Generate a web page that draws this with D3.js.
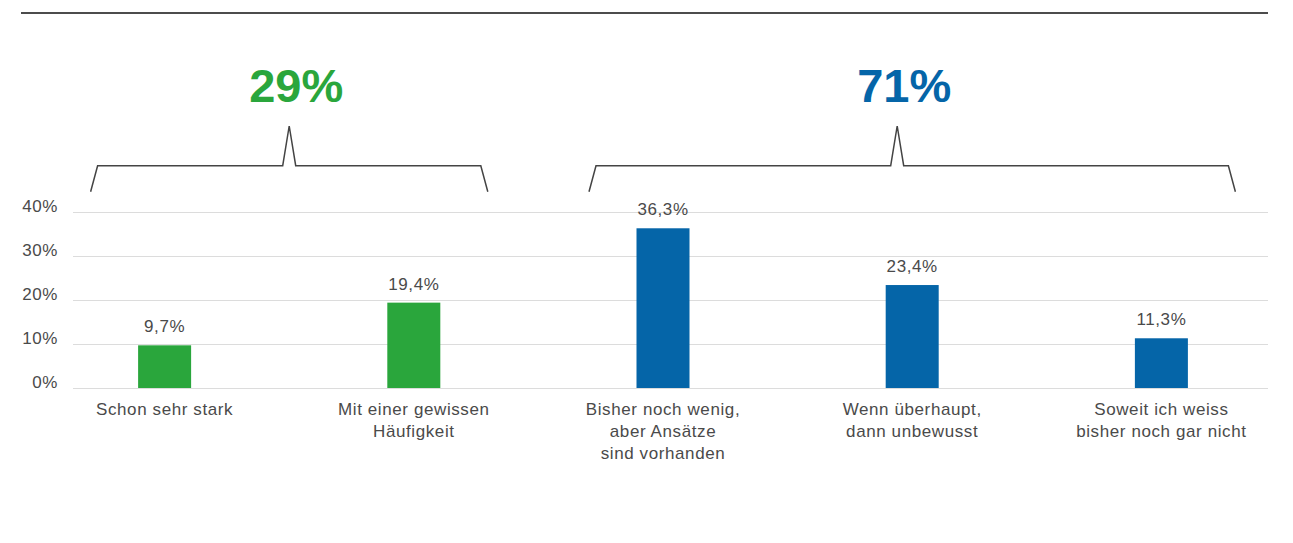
<!DOCTYPE html>
<html>
<head>
<meta charset="utf-8">
<script src="https://cdn.jsdelivr.net/npm/d3@7"></script>
<style>
  html, body { margin: 0; padding: 0; background: #fff; }
  svg { display: block; font-family: "Liberation Sans", Arial, Helvetica, sans-serif; }
</style>
</head>
<body>
<svg id="chart" width="1293" height="543"></svg>
<script>
// ---- data ----
const categories = [
  ["Schon sehr stark"],
  ["Mit einer gewissen", "Häufigkeit"],
  ["Bisher noch wenig,", "aber Ansätze", "sind vorhanden"],
  ["Wenn überhaupt,", "dann unbewusst"],
  ["Soweit ich weiss", "bisher noch gar nicht"]
];
const values = [9.7, 19.4, 36.3, 23.4, 11.3];
const valueLabels = ["9,7%", "19,4%", "36,3%", "23,4%", "11,3%"];
const groupOf = [0, 0, 1, 1, 1];
const groupNames = ["29%", "71%"];
const groupColors = ["#2aa63c", "#0565a8"];
const yTicks = [0, 10, 20, 30, 40];
const yTickLabels = ["0%", "10%", "20%", "30%", "40%"];

// ---- layout ----
const svg = d3.select("#chart");
const textColor = "#4a4a4a";
const ls = "0.6px";
const keys = categories.map((c, i) => i);

const x = d3.scaleBand().domain(keys).range([40, 1286])
  .paddingInner(0.7873).paddingOuter(0.3937);
const y = d3.scaleLinear().domain([0, 40]).range([388, 212]);
const cx = i => x(i) + x.bandwidth() / 2;

// top rule
svg.append("line").attr("x1", 21).attr("x2", 1268).attr("y1", 13).attr("y2", 13)
  .attr("stroke", "#111").attr("stroke-width", 1.5);

// gridlines + y labels via axis
const yAxis = d3.axisLeft(y).tickValues(yTicks)
  .tickSize(-(1268 - 73)).tickFormat((d, i) => yTickLabels[i]);
const gy = svg.append("g").attr("transform", "translate(73,0)").call(yAxis);
gy.select(".domain").remove();
gy.selectAll(".tick line").attr("stroke", "#dcdcdc").attr("stroke-width", 1.2);
gy.selectAll(".tick text")
  .attr("x", -15).attr("dy", "-0.05em")
  .attr("fill", textColor).attr("font-size", 17)
  .attr("letter-spacing", ls)
  .attr("font-family", "Liberation Sans, Arial, sans-serif");

// bars
svg.append("g").selectAll("rect").data(values).join("rect")
  .attr("x", (d, i) => x(i))
  .attr("y", d => y(d))
  .attr("width", x.bandwidth())
  .attr("height", d => y(0) - y(d))
  .attr("fill", (d, i) => groupColors[groupOf[i]]);

// value labels
svg.append("g").selectAll("text").data(values).join("text")
  .attr("x", (d, i) => cx(i))
  .attr("y", d => y(d) - 13)
  .attr("text-anchor", "middle")
  .attr("letter-spacing", ls)
  .attr("fill", textColor).attr("font-size", 17)
  .text((d, i) => valueLabels[i]);

// category labels
const cl = svg.append("g").selectAll("text").data(categories).join("text")
  .attr("text-anchor", "middle")
  .attr("letter-spacing", ls)
  .attr("fill", textColor).attr("font-size", 17);
cl.each(function(lines, i) {
  d3.select(this).selectAll("tspan").data(lines).join("tspan")
    .attr("x", cx(i))
    .attr("y", (l, j) => 415 + j * 22)
    .text(l => l);
});

// group brackets
const footY = 191.7, barY = 165.7, peakY = 126;
const ext = 74, slant = 7, spikeHalf = 6.5;
const peakShift = [0, -15];
groupNames.forEach((name, g) => {
  const idx = keys.filter(i => groupOf[i] === g);
  const x0 = cx(d3.min(idx)) - ext;
  const x1 = cx(d3.max(idx)) + ext;
  const pk = (x0 + x1) / 2 + peakShift[g];
  const path = d3.path();
  path.moveTo(x0, footY);
  path.lineTo(x0 + slant, barY);
  path.lineTo(pk - spikeHalf, barY);
  path.lineTo(pk, peakY);
  path.lineTo(pk + spikeHalf, barY);
  path.lineTo(x1 - slant, barY);
  path.lineTo(x1, footY);
  svg.append("path").attr("d", path.toString())
    .attr("fill", "none").attr("stroke", "#444").attr("stroke-width", 1.5)
    .attr("stroke-linejoin", "miter");
  svg.append("text")
    .attr("x", pk + 7).attr("y", 101.5)
    .attr("text-anchor", "middle")
    .attr("fill", groupColors[g])
    .attr("font-size", 47).attr("font-weight", "bold")
    .text(name);
});
</script>
</body>
</html>
